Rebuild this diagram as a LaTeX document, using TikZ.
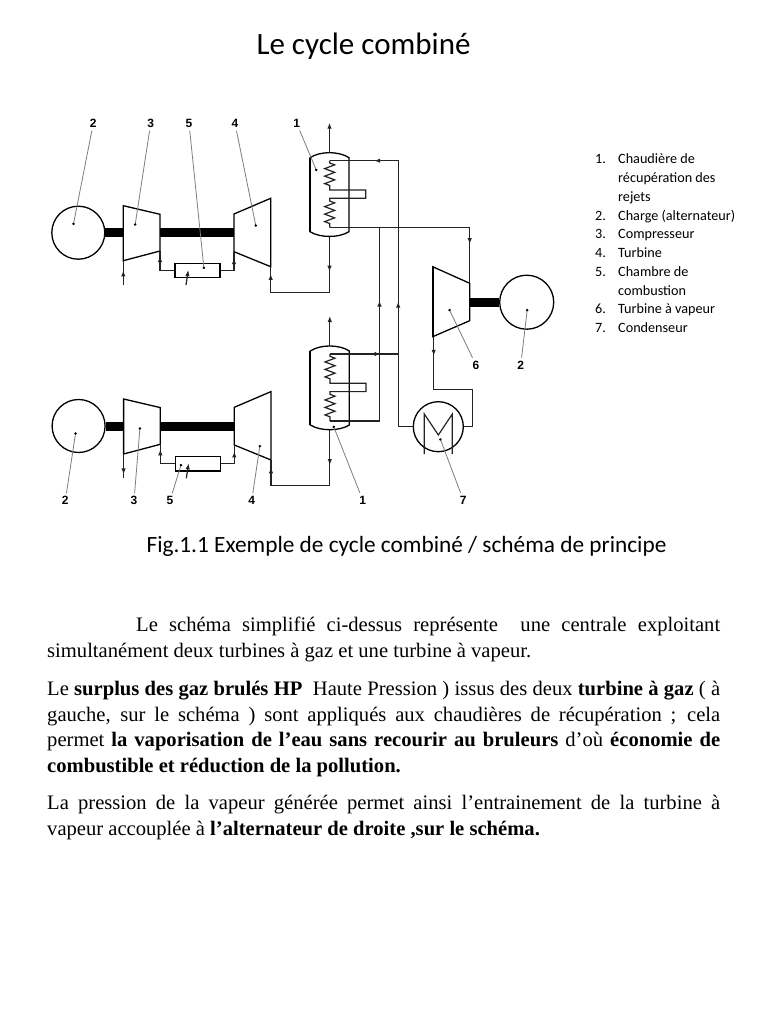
\documentclass[tikz,border=0pt]{standalone}
\usepackage{fontspec}
\setmainfont{Liberation Serif}
\newfontfamily\uifont{Carlito}
\newfontfamily\tagfont{Liberation Sans}
\usepackage{array}
\usetikzlibrary{arrows.meta, positioning, calc, decorations.markings, decorations.pathmorphing}
\definecolor{inkline}{RGB}{35, 35, 35}
\definecolor{leadgray}{RGB}{125, 125, 125}

\newcommand{\callout}[5]{%
  \node[tagtext] (#1) at (#2) {#3};
  \coordinate (#1end) at (#4);
  \draw[leader] (#1) -- (#1end);
  #5}

\tikzset{
  pipe/.style={draw=inkline, line width=1.2pt},
  flow/.style={postaction={decorate, decoration={markings, mark=at position #1 with {\arrow{Latex[length=6pt, width=4.5pt]}}}}},
  casing/.style={draw=black, line width=1.3pt},
  machine/.style={circle, draw=black, line width=1.3pt, inner sep=0pt, minimum size=#1},
  shaft/.style={draw=black, line width=9pt},
  zig/.style={decorate, decoration={zigzag, amplitude=5pt, segment length=7.5pt}},
  tagtext/.style={font=\tagfont\bfseries\fontsize{12}{12}\selectfont, inner sep=1pt},
  leader/.style={draw=leadgray, line width=0.8pt, shorten <=2pt, -{Circle[length=2.4pt, black]}},
  bodytext/.style={anchor=north west, text width=673, inner sep=0pt, align=justify, font=\fontsize{20.6}{25.7}\selectfont},
  gasunit/.pic={
    % Alternateur et compresseur
    \node[machine=53] (-gen) at (78.3, 232.7) {};
    \coordinate (-cin) at (123.3, 260.7);
    \coordinate (-cout) at (160, 251);
    \coordinate (-cleft) at (123.3, 232.7);
    \coordinate (-cright) at (160, 232.7);
    \coordinate (-tleft) at (234, 232.7);
    \coordinate (-tin) at (234, 251.7);
    \coordinate (-texit) at (270.7, 266.7);
    \draw[casing, fill=white] (123.3, 205.7) -- (160, 214.3) -- (-cout) -- (-cin) -- cycle;
    \draw[casing, fill=white] (234, 214) -- (270.7, 198.3) -- (-texit) -- (-tin) -- cycle;
    \draw[shaft] (-gen.east) -- (-cleft);
    \draw[shaft] (-cright) -- (-tleft);
    % Chambre de combustion
    \node[draw=black, line width=1.2pt, minimum width=45, minimum height=14.4, inner sep=0pt] (-cc) at (197.5, 270.5) {};
    \coordinate (-fuel) at (186, 285);
    \coordinate (-fuelend) at (188.3, 270);
    \draw[pipe, -{Latex[length=6pt, width=4.5pt]}] (-fuel) -- (-fuelend);
    \draw[pipe, flow=0.85] (-cc.west) -| (-cout);
    \draw[pipe, flow=0.8] (-cc.east) -| (-tin);
    % Chaudiere de recuperation
    \draw[casing] (310, 157.7) .. controls (320, 151) and (339, 151) .. (349, 157.7) -- (349, 231.7) .. controls (339, 238) and (320, 238) .. (310, 231.7) -- cycle;
    \draw[black, line width=2pt] (310, 157.7) -- (310, 231.7);
    \coordinate (-btop) at (329.5, 152.7);
    \coordinate (-bsmoke) at (329.5, 122.7);
    \coordinate (-bbot) at (329.5, 236.7);
    \draw[pipe, -{Latex[length=6pt, width=4.5pt]}] (-btop) -- (-bsmoke);
    \draw[pipe, flow=0.25, flow=0.948] (-bbot) |- ($(-texit) + (0, 25.6)$) -- (-texit);
    % Serpentins
    \coordinate (-hin) at (329.7, 160.7);
    \coordinate (-hout) at (329.7, 227.7);
    \draw[pipe] (-hin) -- (329.7, 163) decorate[zig] {-- (329.7, 187)} -- (329.7, 190) -- (365.7, 190) -- (365.7, 198.3) -- (329.7, 198.3) -- (329.7, 201) decorate[zig] {-- (329.7, 225)} -- (-hout);
  }
}

\begin{document}
\begin{tikzpicture}[x=1pt, y=-1pt]
  \useasboundingbox (0, 0) rectangle (768, 1024);
  \fill[white] (0, 0) rectangle (768, 1024);

  % Titre
  \node[font=\uifont\fontsize{31}{31}\selectfont, inner sep=0pt] (title) at (363.5, 46) {Le cycle combin\'e};

  % Les deux groupes a gaz
  \pic (up) at (0, 0) {gasunit};
  \pic (lo) at (0.3, 193.3) {gasunit};

  % Admission d'air
  \draw[pipe, flow=0.6] (123.3, 285) -- (up-cin);
  \draw[pipe, flow=0.85] (lo-cin) -- (123.6, 478);

  % Turbine a vapeur
  \node[machine=54] (gensteam) at (526.7, 302.2) {};
  \coordinate (stl) at (432.7, 266.7);
  \coordinate (stin) at (469.7, 283.3);
  \coordinate (stright) at (469.7, 302.2);
  \coordinate (stout) at (433.7, 336.5);
  \draw[casing, fill=white] (stl) -- (stin) -- (469.7, 320.7) -- (432.7, 336.7) -- cycle;
  \draw[black, line width=2pt] (stl) -- (432.7, 336.7);
  \draw[shaft] (stright) -- (gensteam.west);

  % Condenseur
  \node[machine=50] (cond) at (438.3, 426.7) {};
  \coordinate (mleft) at (424.3, 454);
  \coordinate (mright) at (452.3, 454);
  \draw[pipe] (mleft) -- (424.3, 414) -- (438.3, 435) -- (452.3, 414) -- (mright);

  % Circuit eau-vapeur
  \coordinate (jcthot) at (379.5, 227.7);
  \coordinate (jctret) at (398.2, 354);
  \coordinate (elbow) at (472.7, 389.3);
  \draw[pipe, flow=0.8] (up-hout) -| (stin);
  \draw[pipe, flow=0.7] (lo-hout) -| (jcthot);
  \draw[pipe, flow=0.2, flow=0.83] (jctret) |- (up-hin);
  \draw[pipe, line width=1.7pt, flow=0.41] (jctret) -- (lo-hin);
  \draw[pipe] (cond.west) -| (jctret);
  \draw[pipe] (cond.east) -| (elbow);
  \draw[pipe, line width=1.5pt, flow=0.21] (stout) |- (elbow);

  % Reperes
  \callout{upgen}{93.3, 123.3}{2}{73.3, 225}{}
  \callout{upcomp}{150.7, 123.3}{3}{135, 225.7}{}
  \callout{upcc}{189, 123.3}{5}{204, 269}{}
  \callout{upturb}{235, 123.3}{4}{256, 226.7}{}
  \callout{upboil}{296.7, 123.3}{1}{316.7, 171}{}
  \callout{stturb}{476, 365}{6}{449, 309}{}
  \callout{stgen}{520.7, 365}{2}{527.3, 309}{}
  \callout{logen}{65.3, 500.7}{2}{75.7, 432.3}{}
  \callout{locomp}{134, 500.7}{3}{140, 427.3}{}
  \callout{locc}{170, 500.7}{5}{181.3, 464}{}
  \callout{loturb}{251.7, 500.7}{4}{260, 445}{}
  \callout{loboil}{362.7, 500}{1}{333.3, 425.7}{}
  \callout{condtag}{463.3, 500}{7}{440, 438.3}{}

  % Legende
  \node[anchor=north west, inner sep=0pt, font=\uifont\fontsize{14.2}{18.75}\selectfont] (legend) at (595, 150.5) {%
    \begin{tabular}{@{}p{23pt}@{}l@{}}
      1. & Chaudi\`ere de\\
         & r\'ecup\'eration des\\
         & rejets\\
      2. & Charge (alternateur)\\
      3. & Compresseur\\
      4. & Turbine\\
      5. & Chambre de\\
         & combustion\\
      6. & Turbine \`a vapeur\\
      7. & Condenseur
    \end{tabular}};

  % Legende de la figure
  \node[font=\uifont\fontsize{23.3}{23.3}\selectfont, inner sep=0pt] (caption) at (406.5, 546.5) {Fig.1.1 Exemple de cycle combin\'e / sch\'ema de principe};

  % Texte
  \node[bodytext] (para1) at (47, 617) {\hspace*{89pt}Le sch\'ema simplifi\'e ci-dessus repr\'esente\ \ une centrale exploitant\linebreak simultan\'ement deux turbines \`a gaz et une turbine \`a vapeur.};
  \node[bodytext] (para2) at (47, 681) {Le \textbf{surplus des gaz brul\'es HP}\ \ Haute Pression ) issus des deux \textbf{turbine \`a gaz} ( \`a\linebreak gauche, sur le sch\'ema ) sont appliqu\'es aux chaudi\`eres de r\'ecup\'eration ; cela\linebreak permet \textbf{la vaporisation de l’eau sans recourir au bruleurs} d’o\`u \textbf{\'economie de\linebreak combustible et r\'eduction de la pollution.}};
  \node[bodytext] (para3) at (47, 795) {La pression de la vapeur g\'en\'er\'ee permet ainsi l’entrainement de la turbine \`a\linebreak vapeur accoupl\'ee \`a \textbf{l’alternateur de droite ,sur le sch\'ema.}};
\end{tikzpicture}
\end{document}
